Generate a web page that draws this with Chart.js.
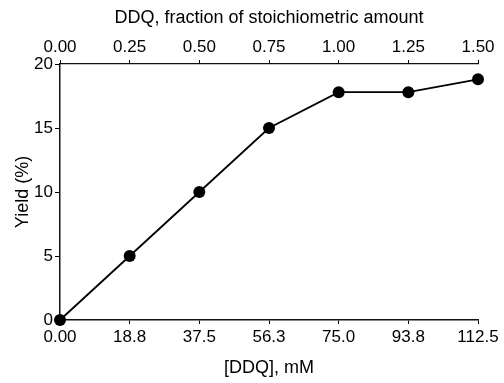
<!DOCTYPE html>
<html>
<head>
<meta charset="utf-8">
<script src="https://cdn.jsdelivr.net/npm/chart.js@4/dist/chart.umd.min.js"></script>
<style>
  body { margin: 0; background: #fff; }
  #wrap { width: 504px; height: 383px; }
</style>
</head>
<body>
<div id="wrap"><canvas id="line-chart" width="504" height="383"></canvas></div>
<script>
// concentrations (mM) and yields
var ddqConc = [0, 18.75, 37.5, 56.25, 75, 93.75, 112.5];
var yieldPct = [0, 5, 10, 15, 17.8, 17.8, 18.8];
var bottomTickLabels = ['0.00', '18.8', '37.5', '56.3', '75.0', '93.8', '112.5'];
var topTickLabels = ['0.00', '0.25', '0.50', '0.75', '1.00', '1.25', '1.50'];
var yTicks = [0, 5, 10, 15, 20];

var points = ddqConc.map(function (x, i) { return { x: x, y: yieldPct[i] }; });

var tickFont = { family: 'Liberation Sans, Arial, sans-serif', size: 17 };
var titleFont = { family: 'Liberation Sans, Arial, sans-serif', size: 18 };

var chart = new Chart(document.getElementById('line-chart'), {
  type: 'line',
  data: {
    datasets: [{
      data: points,
      borderColor: '#000',
      borderWidth: 1.8,
      backgroundColor: '#000',
      pointRadius: 6,
      pointHoverRadius: 6,
      pointBackgroundColor: '#000',
      pointBorderWidth: 0,
      fill: false,
      tension: 0,
      clip: false
    }]
  },
  options: {
    responsive: false,
    animation: false,
    layout: { padding: { left: 0, right: 26, top: 0, bottom: 0 } },
    plugins: { legend: { display: false }, tooltip: { enabled: false } },
    scales: {
      x: {
        type: 'linear',
        position: 'bottom',
        min: 0,
        max: 112.5,
        afterBuildTicks: function (scale) {
          scale.ticks = ddqConc.map(function (v) { return { value: v }; });
        },
        ticks: {
          color: '#000',
          font: tickFont,
          padding: 3,
          maxRotation: 0,
          callback: function (v, i) { return bottomTickLabels[i]; }
        },
        grid: { drawOnChartArea: false, drawTicks: true, tickLength: 4, color: '#000', tickColor: '#000' },
        border: { color: '#111', width: 1.5 },
        title: { display: true, text: '[DDQ], mM', color: '#000', font: titleFont, padding: { top: 0, bottom: 4 } },
        afterFit: function (scale) { scale.height = 63; }
      },
      x2: {
        type: 'linear',
        axis: 'x',
        position: 'top',
        min: 0,
        max: 1.5,
        afterBuildTicks: function (scale) {
          scale.ticks = topTickLabels.map(function (t) { return { value: parseFloat(t) }; });
        },
        ticks: {
          color: '#000',
          font: tickFont,
          padding: 2,
          maxRotation: 0,
          callback: function (v, i) { return topTickLabels[i]; }
        },
        grid: { drawOnChartArea: false, drawTicks: true, tickLength: 4, color: '#000', tickColor: '#000' },
        border: { color: '#111', width: 1.2 },
        title: { display: true, text: 'DDQ, fraction of stoichiometric amount', color: '#000', font: titleFont, padding: { top: 7, bottom: 0 } },
        afterFit: function (scale) { scale.height = 64; }
      },
      y: {
        min: 0,
        max: 20,
        afterBuildTicks: function (scale) {
          scale.ticks = yTicks.map(function (v) { return { value: v }; });
        },
        ticks: { color: '#000', font: tickFont, padding: 2 },
        grid: { drawOnChartArea: false, drawTicks: true, tickLength: 5, color: '#000', tickColor: '#000' },
        border: { color: '#111', width: 1.5 },
        title: { display: true, text: 'Yield (%)', color: '#000', font: titleFont, padding: { top: 12, bottom: 0 } },
        afterFit: function (scale) { scale.width = 60; }
      }
    }
  }
});
</script>
</body>
</html>
